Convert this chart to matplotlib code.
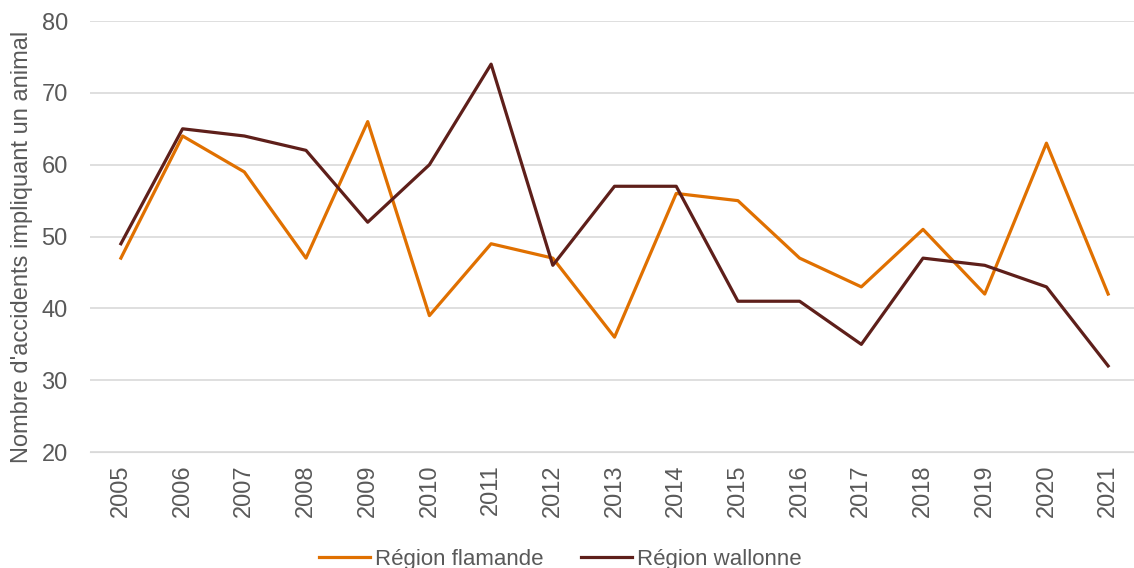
import matplotlib.pyplot as plt

plt.rcParams["font.family"] = ["Liberation Sans", "DejaVu Sans"]

years = [str(y) for y in range(2005, 2022)]
flamande = [47, 64, 59, 47, 66, 39, 49, 47, 36, 56, 55, 47, 43, 51, 42, 63, 42]
wallonne = [49, 65, 64, 62, 52, 60, 74, 46, 57, 57, 41, 41, 35, 47, 46, 43, 32]

grey = "#595959"

fig = plt.figure(figsize=(11.34, 5.68), dpi=100)
ax = fig.add_axes([0.0794, 0.204, 0.925, 0.759])

x = range(len(years))
ax.plot(x, flamande, color="#E07000", lw=2.3, label="Région flamande")
ax.plot(x, wallonne, color="#5E1F1A", lw=2.3, label="Région wallonne")

ax.set_xlim(-0.5, len(years) - 0.5)
ax.set_ylim(20, 80)
ax.set_yticks(range(20, 81, 10))
ax.set_xticks(list(x))
ax.set_xticklabels(years, rotation=90)
ax.grid(axis="y", color="#D9D9D9", lw=1.2)
ax.set_axisbelow(True)
for s in ["top", "right", "left"]:
    ax.spines[s].set_visible(False)
ax.spines["bottom"].set_color("#D9D9D9")
ax.tick_params(axis="both", length=0, labelsize=17, labelcolor=grey)
ax.tick_params(axis="y", pad=16)
ax.tick_params(axis="x", pad=9)
ax.set_ylabel("Nombre d'accidents impliquant un animal", fontsize=17, color=grey)
ax.yaxis.set_label_coords(-0.054, 0.476)

fig.legend(loc="center", bbox_to_anchor=(0.494, 0.015), ncol=2, frameon=False,
           fontsize=16, labelcolor=grey, handlelength=2.3, handletextpad=0.2,
           columnspacing=1.7)

fig.savefig("out.png", dpi=100)
